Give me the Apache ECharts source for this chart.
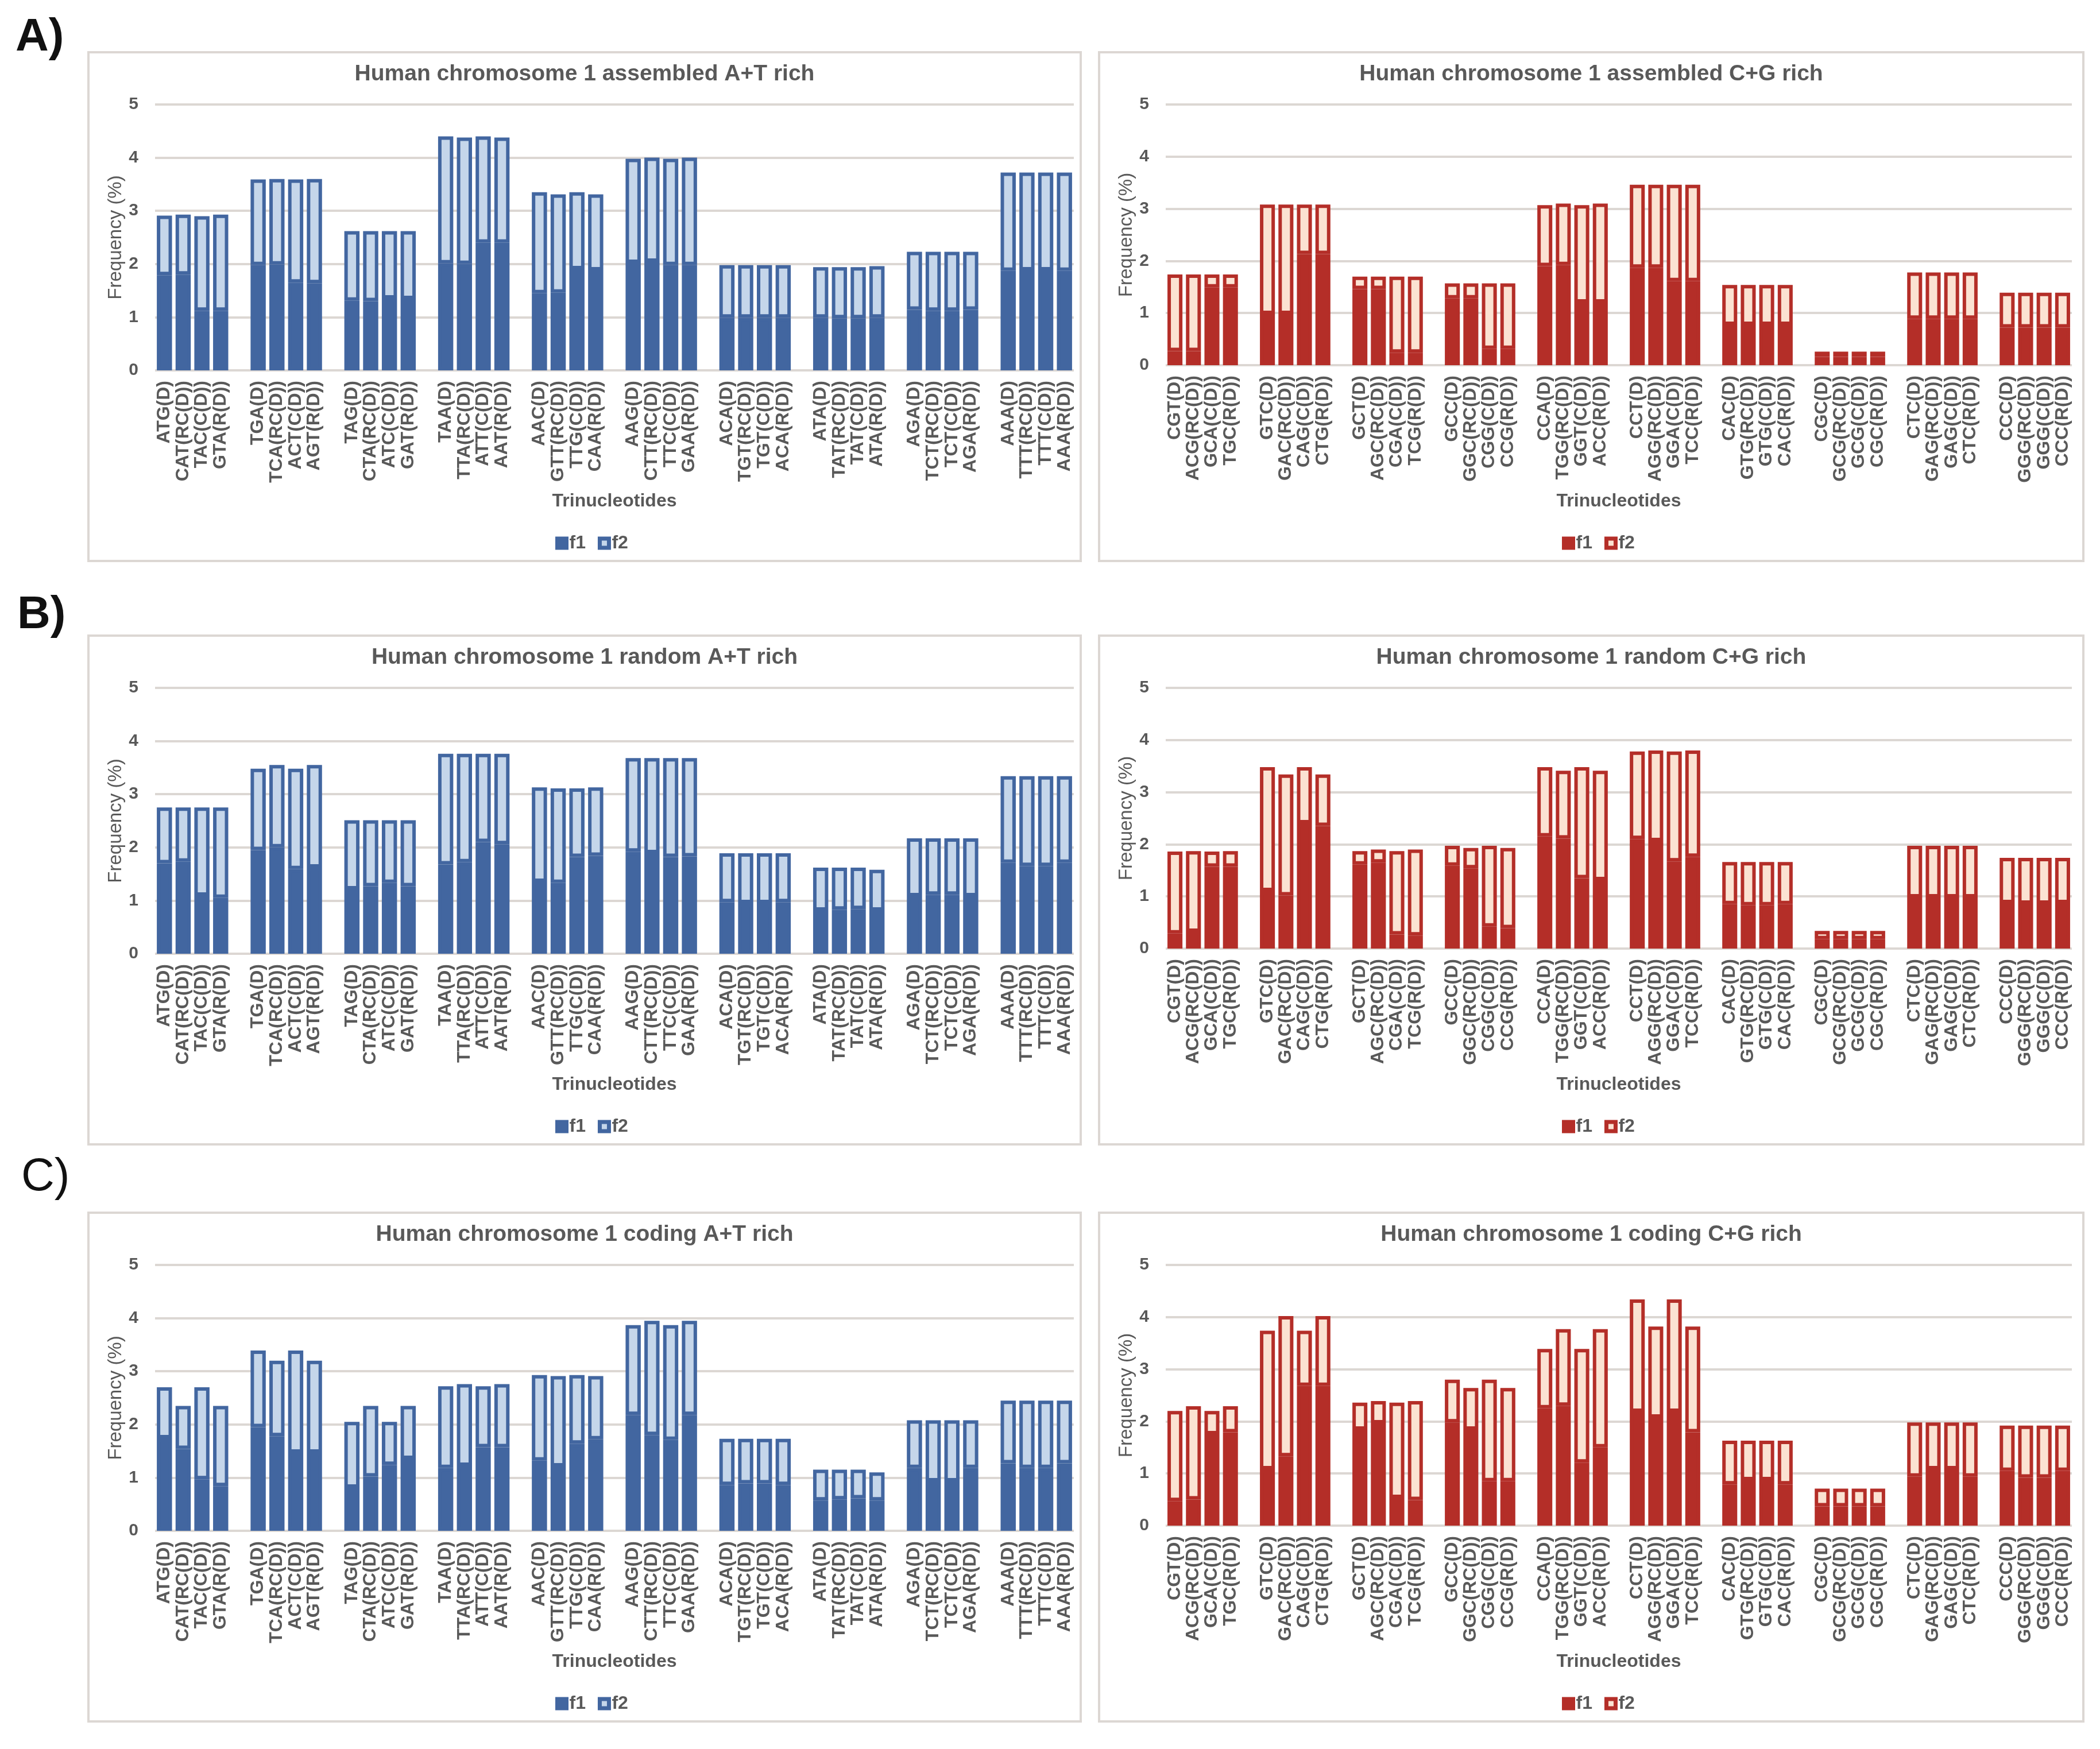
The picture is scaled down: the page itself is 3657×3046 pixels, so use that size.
<!DOCTYPE html>
<html>
<head>
<meta charset="utf-8">
<title>Trinucleotide frequencies, human chromosome 1</title>
<script src="https://cdn.jsdelivr.net/npm/echarts@6/dist/echarts.min.js"></script>
<style>
  html, body { margin: 0; padding: 0; background: #fff; }
  #chart { width: 3657px; height: 3046px; }
</style>
</head>
<body>
<div id="chart"></div>
<script>
// --- Data --------------------------------------------------------------

// Tick labels on the x axes, 10 groups of 4 (D, RC(D), C(D), R(D)).
const catsAT = [
  'ATG(D)', 'CAT(RC(D))', 'TAC(C(D))', 'GTA(R(D))',
  'TGA(D)', 'TCA(RC(D))', 'ACT(C(D))', 'AGT(R(D))',
  'TAG(D)', 'CTA(RC(D))', 'ATC(C(D))', 'GAT(R(D))',
  'TAA(D)', 'TTA(RC(D))', 'ATT(C(D))', 'AAT(R(D))',
  'AAC(D)', 'GTT(RC(D))', 'TTG(C(D))', 'CAA(R(D))',
  'AAG(D)', 'CTT(RC(D))', 'TTC(C(D))', 'GAA(R(D))',
  'ACA(D)', 'TGT(RC(D))', 'TGT(C(D))', 'ACA(R(D))',
  'ATA(D)', 'TAT(RC(D))', 'TAT(C(D))', 'ATA(R(D))',
  'AGA(D)', 'TCT(RC(D))', 'TCT(C(D))', 'AGA(R(D))',
  'AAA(D)', 'TTT(RC(D))', 'TTT(C(D))', 'AAA(R(D))',
];
const catsCG = [
  'CGT(D)', 'ACG(RC(D))', 'GCA(C(D))', 'TGC(R(D))',
  'GTC(D)', 'GAC(RC(D))', 'CAG(C(D))', 'CTG(R(D))',
  'GCT(D)', 'AGC(RC(D))', 'CGA(C(D))', 'TCG(R(D))',
  'GCC(D)', 'GGC(RC(D))', 'CGG(C(D))', 'CCG(R(D))',
  'CCA(D)', 'TGG(RC(D))', 'GGT(C(D))', 'ACC(R(D))',
  'CCT(D)', 'AGG(RC(D))', 'GGA(C(D))', 'TCC(R(D))',
  'CAC(D)', 'GTG(RC(D))', 'GTG(C(D))', 'CAC(R(D))',
  'CGC(D)', 'GCG(RC(D))', 'GCG(C(D))', 'CGC(R(D))',
  'CTC(D)', 'GAG(RC(D))', 'GAG(C(D))', 'CTC(R(D))',
  'CCC(D)', 'GGG(RC(D))', 'GGG(C(D))', 'CCC(R(D))',
];

// Frequencies (%), f1 is the lower stack segment, f2 the upper one.
const asmAT_f1 = [1.79, 1.80, 1.12, 1.12, 1.98, 1.99, 1.65, 1.64, 1.31, 1.30, 1.35, 1.34, 2.01, 2.00, 2.40, 2.40, 1.45, 1.46, 1.90, 1.88,
                  2.02, 2.04, 1.98, 1.98, 0.99, 0.99, 0.99, 0.99, 0.99, 0.98, 0.98, 0.99, 1.14, 1.12, 1.12, 1.14, 1.87, 1.88, 1.88, 1.87];
const asmAT_f2 = [1.12, 1.13, 1.78, 1.81, 1.61, 1.61, 1.94, 1.96, 1.31, 1.32, 1.27, 1.28, 2.39, 2.38, 2.00, 1.98, 1.90, 1.85, 1.45, 1.43,
                  1.96, 1.96, 2.00, 2.02, 0.99, 0.99, 0.99, 0.99, 0.95, 0.96, 0.96, 0.97, 1.09, 1.11, 1.11, 1.09, 1.85, 1.84, 1.84, 1.85];

const asmCG_f1 = [0.27, 0.27, 1.49, 1.49, 0.98, 0.98, 2.13, 2.13, 1.46, 1.46, 0.24, 0.24, 1.28, 1.28, 0.31, 0.31, 1.90, 1.92, 1.20, 1.20,
                  1.87, 1.87, 1.61, 1.61, 0.77, 0.77, 0.77, 0.77, 0.16, 0.16, 0.16, 0.16, 0.89, 0.89, 0.89, 0.89, 0.72, 0.72, 0.72, 0.72];
const asmCG_f2 = [1.47, 1.47, 0.25, 0.25, 2.10, 2.10, 0.95, 0.95, 0.24, 0.24, 1.46, 1.46, 0.29, 0.29, 1.26, 1.26, 1.17, 1.18, 1.87, 1.90,
                  1.59, 1.59, 1.85, 1.85, 0.77, 0.77, 0.77, 0.77, 0.10, 0.10, 0.10, 0.10, 0.89, 0.89, 0.89, 0.89, 0.67, 0.67, 0.67, 0.67];

const rndAT_f1 = [1.70, 1.73, 1.09, 1.05, 1.95, 2.00, 1.59, 1.62, 1.21, 1.27, 1.33, 1.27, 1.68, 1.72, 2.10, 2.06, 1.35, 1.33, 1.82, 1.84,
                  1.92, 1.89, 1.82, 1.83, 0.97, 0.95, 0.95, 0.97, 0.81, 0.83, 0.84, 0.81, 1.08, 1.11, 1.11, 1.08, 1.71, 1.65, 1.65, 1.71];
const rndAT_f2 = [1.05, 1.02, 1.66, 1.70, 1.53, 1.55, 1.89, 1.93, 1.30, 1.24, 1.18, 1.24, 2.08, 2.04, 1.66, 1.70, 1.78, 1.78, 1.29, 1.29,
                  1.76, 1.79, 1.86, 1.85, 0.92, 0.94, 0.94, 0.92, 0.81, 0.79, 0.78, 0.77, 1.09, 1.06, 1.06, 1.09, 1.63, 1.69, 1.69, 1.63];

const rndCG_f1 = [0.29, 0.32, 1.57, 1.57, 1.10, 1.02, 2.40, 2.35, 1.61, 1.65, 0.27, 0.25, 1.59, 1.54, 0.42, 0.39, 2.15, 2.11, 1.35, 1.31,
                  2.10, 2.06, 1.67, 1.76, 0.85, 0.83, 0.83, 0.85, 0.18, 0.18, 0.18, 0.18, 0.98, 0.98, 0.98, 0.98, 0.87, 0.86, 0.86, 0.87];
const rndCG_f2 = [1.57, 1.55, 0.29, 0.30, 2.38, 2.32, 1.08, 0.99, 0.26, 0.25, 1.60, 1.65, 0.38, 0.39, 1.55, 1.54, 1.33, 1.30, 2.13, 2.10,
                  1.68, 1.74, 2.11, 2.04, 0.81, 0.83, 0.83, 0.81, 0.16, 0.16, 0.16, 0.16, 0.99, 0.99, 0.99, 0.99, 0.87, 0.88, 0.88, 0.87];

const codAT_f1 = [1.74, 1.54, 0.97, 0.84, 1.95, 1.78, 1.47, 1.47, 0.81, 1.02, 1.24, 1.35, 1.18, 1.22, 1.57, 1.57, 1.32, 1.21, 1.64, 1.72,
                  2.18, 1.80, 1.71, 2.18, 0.86, 0.89, 0.89, 0.86, 0.57, 0.59, 0.61, 0.57, 1.18, 0.93, 0.93, 1.18, 1.27, 1.18, 1.18, 1.27];
const codAT_f2 = [0.96, 0.81, 1.73, 1.51, 1.44, 1.42, 1.92, 1.73, 1.24, 1.33, 0.81, 1.00, 1.54, 1.54, 1.15, 1.19, 1.61, 1.70, 1.29, 1.19,
                  1.69, 2.15, 2.16, 1.77, 0.87, 0.84, 0.84, 0.87, 0.58, 0.56, 0.54, 0.53, 0.90, 1.15, 1.15, 0.90, 1.18, 1.27, 1.27, 1.18];

const codCG_f1 = [0.47, 0.50, 1.75, 1.79, 1.08, 1.33, 2.68, 2.68, 1.84, 1.96, 0.53, 0.49, 1.98, 1.84, 0.85, 0.85, 2.25, 2.30, 1.21, 1.50,
                  2.18, 2.07, 2.18, 1.79, 0.79, 0.87, 0.87, 0.79, 0.37, 0.37, 0.37, 0.37, 0.94, 1.08, 1.08, 0.94, 1.05, 0.92, 0.92, 1.05];
const codCG_f2 = [1.73, 1.79, 0.45, 0.50, 2.66, 2.69, 1.06, 1.34, 0.52, 0.43, 1.83, 1.90, 0.82, 0.80, 1.95, 1.79, 1.14, 1.47, 2.18, 2.27,
                  2.16, 1.75, 2.16, 2.03, 0.84, 0.76, 0.76, 0.84, 0.34, 0.34, 0.34, 0.34, 1.04, 0.90, 0.90, 1.04, 0.87, 1.00, 1.00, 0.87];

const yTicks = [0, 1, 2, 3, 4, 5];
const rowLetters = ['A)', 'B)', 'C)'];

// --- Styling -----------------------------------------------------------

const FONT = "'Liberation Sans', Arial, Helvetica, sans-serif";
const TEXT = '#595959';
const RULE = '#dcd7d3';
const BLUE = { dark: '#4266a0', light: '#c5d6ea' };
const RED = { dark: '#b42e28', light: '#fbe2d2' };

const panels = [
  { row: 0, col: 0, title: 'Human chromosome 1 assembled A+T rich', cats: catsAT, f1: asmAT_f1, f2: asmAT_f2, pal: BLUE },
  { row: 0, col: 1, title: 'Human chromosome 1 assembled C+G rich', cats: catsCG, f1: asmCG_f1, f2: asmCG_f2, pal: RED },
  { row: 1, col: 0, title: 'Human chromosome 1 random A+T rich', cats: catsAT, f1: rndAT_f1, f2: rndAT_f2, pal: BLUE },
  { row: 1, col: 1, title: 'Human chromosome 1 random C+G rich', cats: catsCG, f1: rndCG_f1, f2: rndCG_f2, pal: RED },
  { row: 2, col: 0, title: 'Human chromosome 1 coding A+T rich', cats: catsAT, f1: codAT_f1, f2: codAT_f2, pal: BLUE },
  { row: 2, col: 1, title: 'Human chromosome 1 coding C+G rich', cats: catsCG, f1: codCG_f1, f2: codCG_f2, pal: RED },
];

// Pixel layout of the figure.
const rowTop = [91, 1107, 2112];
const BOX_H = 886;
const cols = [
  { boxX: 154, boxW: 1728, plotX: 270, plotW: 1600, plotBottom: 554, xNameGap: 212 },
  { boxX: 1914, boxW: 1714, plotX: 2030, plotW: 1578, plotBottom: 545, xNameGap: 221 },
];
const PLOT_TOP = 91;

// Groups of four bars are separated by one empty slot.
const GROUP = 4;
function withGaps(arr, gapValue) {
  const out = [];
  arr.forEach((v, i) => {
    if (i > 0 && i % GROUP === 0) out.push(gapValue(i / GROUP));
    out.push(v);
  });
  return out;
}

const grid = [], xAxis = [], yAxis = [], series = [], legend = [], graphic = [];

rowLetters.forEach((txt, r) => {
  graphic.push({
    type: 'text', x: [27, 30, 37][r], y: [66, 1072, 2051][r], z: 10,
    style: {
      text: txt, fill: '#111', align: 'left', verticalAlign: 'middle',
      font: (r === 2 ? 'normal ' : 'bold ') + '80px ' + FONT,
    },
  });
});

panels.forEach((p, i) => {
  const c = cols[p.col];
  const top = rowTop[p.row];
  const cx = c.boxX + c.boxW / 2;

  graphic.push({
    type: 'rect', z: -1, silent: true,
    shape: { x: c.boxX, y: top, width: c.boxW, height: BOX_H },
    style: { fill: 'none', stroke: RULE, lineWidth: 4 },
  });
  graphic.push({
    type: 'text', x: cx, y: top + 38, z: 10,
    style: { text: p.title, fill: TEXT, align: 'center', verticalAlign: 'middle', font: 'bold 39px ' + FONT },
  });

  grid.push({ left: c.plotX, top: top + PLOT_TOP, width: c.plotW, height: c.plotBottom - PLOT_TOP });

  xAxis.push({
    type: 'category', gridIndex: i,
    data: withGaps(p.cats, k => 'gap' + k),
    axisLine: { show: false }, axisTick: { show: false }, splitLine: { show: false },
    axisLabel: {
      interval: 0, rotate: 90, margin: 18,
      fontSize: 32, fontWeight: 'bold', fontFamily: FONT, color: TEXT,
      formatter: v => (v.startsWith('gap') ? '' : v),
    },
    name: 'Trinucleotides', nameLocation: 'middle', nameGap: c.xNameGap,
    nameTextStyle: { fontSize: 32, fontWeight: 'bold', fontFamily: FONT, color: TEXT },
  });

  yAxis.push({
    type: 'value', gridIndex: i, min: yTicks[0], max: yTicks[yTicks.length - 1], interval: 1,
    axisLine: { show: false }, axisTick: { show: false },
    axisLabel: { margin: 29, fontSize: 30, fontWeight: 'bold', fontFamily: FONT, color: TEXT },
    splitLine: { lineStyle: { color: RULE, width: 4 } },
    name: 'Frequency (%)', nameLocation: 'middle', nameRotate: 90, nameGap: 52,
    nameTextStyle: { fontSize: 33, fontFamily: FONT, color: TEXT },
  });

  const common = {
    type: 'bar', xAxisIndex: i, yAxisIndex: i, stack: 's' + i,
    barWidth: '81%', silent: true, emphasis: { disabled: true },
  };
  series.push({
    ...common, name: 'f1#' + i, data: withGaps(p.f1, () => null),
    itemStyle: { color: p.pal.dark, borderColor: p.pal.dark, borderWidth: 6 },
  });
  series.push({
    ...common, name: 'f2#' + i, data: withGaps(p.f2, () => null),
    itemStyle: { color: p.pal.light, borderColor: p.pal.dark, borderWidth: 6 },
  });

  legend.push({
    left: cx - 56, top: top + 834, orient: 'horizontal',
    icon: 'rect', itemWidth: 16, itemHeight: 16, itemGap: 21,
    selectedMode: false,
    data: ['f1#' + i, 'f2#' + i],
    formatter: name => name.split('#')[0],
    itemStyle: { borderWidth: 7 },
    textStyle: { fontSize: 32, fontWeight: 'bold', fontFamily: FONT, color: TEXT },
  });
});

const chart = echarts.init(document.getElementById('chart'), null, { renderer: 'canvas' });
chart.setOption({
  animation: false,
  backgroundColor: '#fff',
  textStyle: { fontFamily: FONT },
  grid, xAxis, yAxis, series, legend, graphic,
});
</script>
</body>
</html>
